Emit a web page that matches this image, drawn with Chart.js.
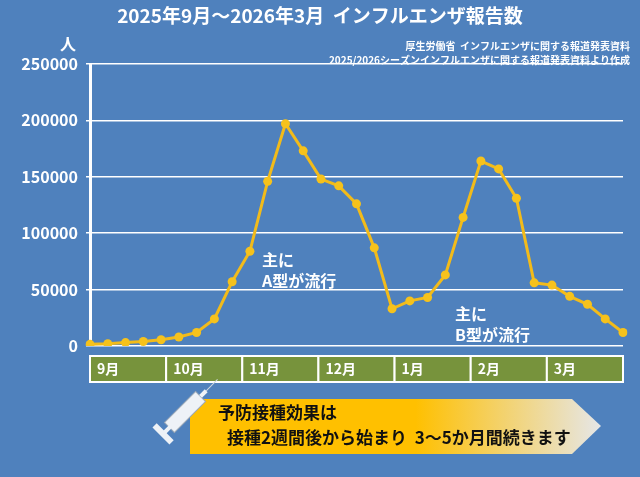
<!DOCTYPE html>
<html>
<head>
<meta charset="utf-8">
<script src="https://cdn.jsdelivr.net/npm/chart.js@4"></script>
<style>
  body { margin: 0; background: #4f81bd; }
  #wrap { width: 640px; height: 477px; position: relative; }
</style>
</head>
<body>
<div id="wrap"><canvas id="c" width="640" height="477"></canvas></div>
<script>
// weekly reports, Sep 2025 - Mar 2026
var weeks = [];
var reports = [1500, 2000, 3000, 4000, 5500, 8000, 12000, 24000, 57000, 84000,
  146000, 197000, 173000, 148000, 142000, 126000, 87000, 33000, 40000, 43000,
  63000, 114000, 164000, 157000, 131000, 56000, 54000, 44000, 37000, 24000, 12000];
var months = ['9月', '10月', '11月', '12月', '1月', '2月', '3月'];
var yTicks = [0, 50000, 100000, 150000, 200000, 250000];
for (var i = 0; i < reports.length; i++) weeks.push('w' + (i + 1));

var FONT = '"Noto Sans CJK JP", "Noto Sans", sans-serif';

// draw title, month band, notes and banner
var decorPlugin = {
  id: 'decor',
  afterDraw: function(chart) {
    var ctx = chart.ctx, a = chart.chartArea;
    ctx.save();
    ctx.fillStyle = '#fff';
    ctx.textBaseline = 'middle';
    ctx.textAlign = 'center';
    ctx.font = 'bold 19px ' + FONT;
    ctx.fillText('2025年9月～2026年3月  インフルエンザ報告数', 320, 16);
    ctx.textAlign = 'right';
    ctx.font = 'bold 10px ' + FONT;
    ctx.fillText('厚生労働省  インフルエンザに関する報道発表資料', 630, 46);
    ctx.fillText('2025/2026シーズンインフルエンザに関する報道発表資料より作成', 630, 60);
    ctx.font = 'bold 16px ' + FONT;
    ctx.fillText('人', 76, 44);

    // month band
    var bw = (a.right - a.left) / months.length;
    for (var m = 0; m < months.length; m++) {
      var x0 = a.left + m * bw;
      ctx.fillStyle = '#77933c';
      ctx.fillRect(x0, 356, bw, 26);
      ctx.strokeStyle = '#fff';
      ctx.lineWidth = 2;
      ctx.strokeRect(x0, 356, bw, 26);
      ctx.fillStyle = '#fff';
      ctx.textAlign = 'left';
      ctx.font = 'bold 14px ' + FONT;
      ctx.fillText(months[m], x0 + 7, 369);
    }

    // annotations
    ctx.font = 'bold 16px ' + FONT;
    ctx.fillText('主に', 262, 260);
    ctx.fillText('A型が流行', 262, 281);
    ctx.fillText('主に', 455, 314);
    ctx.fillText('B型が流行', 455, 335);

    // banner arrow
    var g = ctx.createLinearGradient(190, 0, 600, 0);
    g.addColorStop(0, '#ffc000');
    g.addColorStop(0.55, '#ffc000');
    g.addColorStop(1, '#e6e6e6');
    ctx.fillStyle = g;
    ctx.beginPath();
    ctx.moveTo(190, 399);
    ctx.lineTo(572, 399);
    ctx.lineTo(601, 426);
    ctx.lineTo(572, 454);
    ctx.lineTo(190, 454);
    ctx.closePath();
    ctx.fill();

    // syringe
    ctx.save();
    ctx.translate(185, 412);
    ctx.rotate(-Math.PI / 4);
    ctx.fillStyle = '#eef2f7';
    ctx.strokeStyle = '#9aa8b8';
    ctx.lineWidth = 1;
    ctx.fillRect(-22, -7, 44, 14);
    ctx.strokeRect(-22, -7, 44, 14);
    ctx.fillRect(-34, -12, 6, 24);
    ctx.fillRect(-30, -2, 10, 4);
    ctx.fillRect(22, -2, 8, 4);
    ctx.strokeStyle = '#cfd8e0';
    ctx.beginPath();
    ctx.moveTo(30, 0);
    ctx.lineTo(46, 0);
    ctx.stroke();
    ctx.restore();

    ctx.fillStyle = '#111';
    ctx.font = 'bold 17px ' + FONT;
    ctx.textAlign = 'left';
    ctx.fillText('予防接種効果は', 218, 413);
    ctx.fillText('接種2週間後から始まり  3～5か月間続きます', 227, 438);
    ctx.restore();
  }
};

new Chart(document.getElementById('c'), {
  type: 'line',
  data: {
    labels: weeks,
    datasets: [{
      data: reports,
      borderColor: '#f2bb1a',
      backgroundColor: '#f6c21c',
      borderWidth: 3,
      pointRadius: 4.5,
      pointBorderWidth: 0,
      tension: 0
    }]
  },
  options: {
    responsive: false,
    animation: false,
    layout: { padding: { top: 64, right: 17, bottom: 123, left: 0 } },
    plugins: { legend: { display: false }, tooltip: { enabled: false } },
    scales: {
      x: {
        offset: false,
        ticks: { display: false },
        grid: { display: false },
        border: { display: false }
      },
      y: {
        min: 0,
        max: 250000,
        afterFit: function(s) { s.width = 90; },
        afterBuildTicks: function(s) { s.ticks = yTicks.map(function(v) { return { value: v }; }); },
        ticks: {
          color: '#fff',
          font: { family: FONT, size: 16, weight: 'bold' },
          padding: 8,
          callback: function(v) { return String(v); }
        },
        grid: { color: '#ffffff', lineWidth: 1.5, tickLength: 4 },
        border: { color: '#fff', width: 3 }
      }
    }
  },
  plugins: [decorPlugin]
});
</script>
</body>
</html>
